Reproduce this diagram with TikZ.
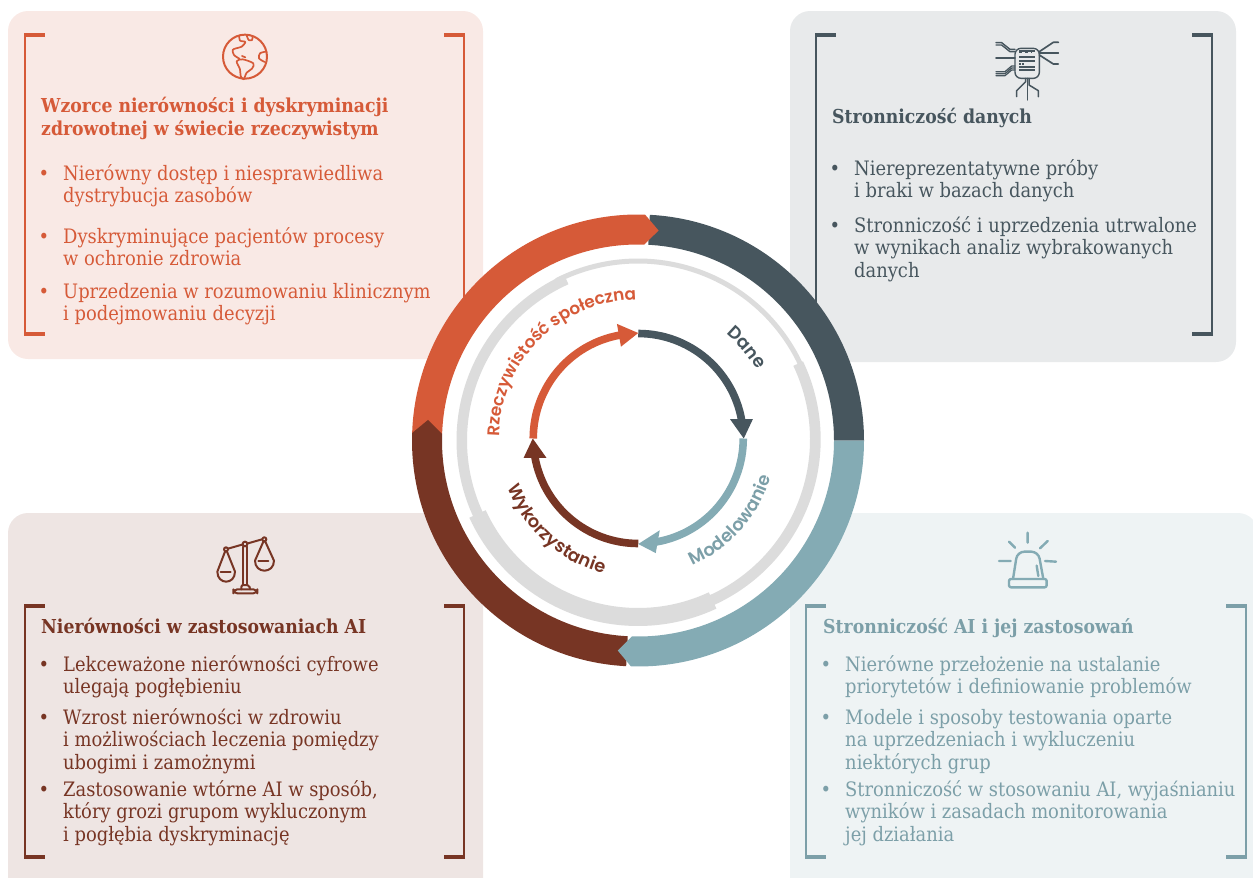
\documentclass[tikz,border=0pt]{standalone}
\usepackage{fontspec}
\usetikzlibrary{decorations.text,calc}
\newfontfamily\bodyf{DejaVu Serif Condensed}
\newfontfamily\lblf{Poppins SemiBold}
\definecolor{cR}{HTML}{D65A38}
\definecolor{cD}{HTML}{47565E}
\definecolor{cT}{HTML}{84ABB4}
\definecolor{cB}{HTML}{773524}
\definecolor{cTt}{HTML}{7C9FA8}
\definecolor{pR}{HTML}{F9E9E5}
\definecolor{pD}{HTML}{E8EAEB}
\definecolor{pB}{HTML}{EEE5E3}
\definecolor{pT}{HTML}{EEF3F4}
\definecolor{cG}{HTML}{DCDCDC}
\newcommand\lines[1]{\begin{tabular}[t]{@{}l@{}}#1\end{tabular}}
\tikzset{
 panel/.style={rounded corners=20pt},
 body/.style={anchor=base west,inner sep=0pt,font=\bodyf\fontsize{19.9}{22.9}\selectfont},
 head/.style={anchor=base west,inner sep=0pt,font=\bodyf\bfseries\fontsize{19.2}{23}\selectfont},
 dot/.style={anchor=base,inner sep=0pt,font=\bodyf\fontsize{19.9}{22.9}\selectfont},
 hbar/.style={line width=3.4pt},
 brk/.style={line width=2pt,line cap=butt},
 ico/.style={line width=2pt,line cap=round,line join=round},
}
% bracket: x-left, x-right, y-top, y-bottom, colour
\newcommand\brackets[5]{%
 \draw[brk,#5] (#1,-#3) -- (#1,-#4);
 \draw[hbar,#5] (#1-1,-#3) -- (#1+20,-#3);
 \draw[hbar,#5] (#1-1,-#4) -- (#1+20,-#4);
 \draw[brk,#5] (#2,-#3) -- (#2,-#4);
 \draw[hbar,#5] (#2+1,-#3) -- (#2-20,-#3);
 \draw[hbar,#5] (#2+1,-#4) -- (#2-20,-#4);
}
\begin{document}
\begin{tikzpicture}[x=1pt,y=1pt]
\useasboundingbox (0,0) rectangle (1253,-878);
\clip (0,0) rectangle (1253,-878);
% panels
\fill[panel,pR] (8,-11) rectangle (483,-359);
\fill[panel,pD] (790,-11) rectangle (1236,-362);
\fill[panel,pB] (8,-513) rectangle (483,-900);
\fill[panel,pT] (790,-513) rectangle (1258,-898);
% brackets
\brackets{25}{464}{35}{334}{cR}
\brackets{816}{1212}{35}{334}{cD}
\brackets{25}{464}{606}{857}{cB}
\brackets{806}{1246}{606}{857}{cTt}
% top-left text
\node[head,cR] (tlh) at (41,-112) {\lines{Wzorce nierówności i dyskryminacji\\zdrowotnej w świecie rzeczywistym}};
\node[dot,cR] (tld1) at (44,-180) {•};
\node[body,cR] (tl1) at (63,-180) {\lines{Nierówny dostęp i niesprawiedliwa\\dystrybucja zasobów}};
\node[dot,cR] (tld2) at (44,-243) {•};
\node[body,cR] (tl2) at (63,-243) {\lines{Dyskryminujące pacjentów procesy\\w ochronie zdrowia}};
\node[dot,cR] (tld3) at (44,-298) {•};
\node[body,cR] (tl3) at (63,-298) {\lines{Uprzedzenia w rozumowaniu klinicznym\\i podejmowaniu decyzji}};
% top-right text
\node[head,cD] (trh) at (832,-123) {Stronniczość danych};
\node[dot,cD] (trd1) at (835,-175) {•};
\node[body,cD] (tr1) at (854,-175) {\lines{Niereprezentatywne próby\\i braki w bazach danych}};
\node[dot,cD] (trd2) at (835,-232) {•};
\node[body,cD] (tr2) at (854,-232) {\lines{Stronniczość i uprzedzenia utrwalone\\w wynikach analiz wybrakowanych\\danych}};
% bottom-left text
\node[head,cB] (blh) at (41,-633) {Nierówności w zastosowaniach AI};
\node[dot,cB] (bld1) at (44,-671) {•};
\node[body,cB] (bl1) at (63,-671) {\lines{Lekceważone nierówności cyfrowe\\ulegają pogłębieniu}};
\node[dot,cB] (bld2) at (44,-724) {•};
\node[body,cB] (bl2) at (63,-724) {\lines{Wzrost nierówności w zdrowiu\\i możliwościach leczenia pomiędzy\\ubogimi i zamożnymi}};
\node[dot,cB] (bld3) at (44,-796) {•};
\node[body,cB] (bl3) at (63,-796) {\lines{Zastosowanie wtórne AI w sposób,\\który grozi grupom wykluczonym\\i pogłębia dyskryminację}};
% bottom-right text
\node[head,cTt] (brh) at (823,-633) {Stronniczość AI i jej zastosowań};
\node[dot,cTt] (brd1) at (826,-671) {•};
\node[body,cTt] (br1) at (845,-671) {\lines{Nierówne przełożenie na ustalanie\\priorytetów i definiowanie problemów}};
\node[dot,cTt] (brd2) at (826,-724) {•};
\node[body,cTt] (br2) at (845,-724) {\lines{Modele i sposoby testowania oparte\\na uprzedzeniach i wykluczeniu\\niektórych grup}};
\node[dot,cTt] (brd3) at (826,-796) {•};
\node[body,cTt] (br3) at (845,-796) {\lines{Stronniczość w stosowaniu AI, wyjaśnianiu\\wyników i zasadach monitorowania\\jej działania}};
% icons (coordinates are zoom-crop pixels)
\begin{scope}[shift={(200,-20)},x=0.3333pt,y=-0.3333pt]
 \draw[ico,cR] (135,110) circle (66);
 \draw[ico,cR,line width=1.7pt] plot[smooth] coordinates {(118,50) (120,62) (136,66) (125,80) (108,85) (98,90) (102,105) (118,116)};
 \draw[ico,cR,line width=1.7pt] plot[smooth cycle] coordinates {(110,124) (128,118) (160,130) (156,146) (140,158) (131,178) (122,168) (120,148)};
 \draw[ico,cR,line width=1.7pt] plot[smooth] coordinates {(140,46) (146,60) (156,60) (158,50)};
 \draw[ico,cR,line width=1.7pt] plot[smooth] coordinates {(197,95) (180,100) (177,115) (194,126)};
 \draw[ico,cR,line width=1.7pt] (126,108) -- (136,112);
\end{scope}
\begin{scope}[shift={(980,-30)},x=0.3333pt,y=-0.3333pt]
 \draw[ico,cD,line width=1.4pt,rounded corners=6pt] (105,55) rectangle (178,145);
 \foreach \y in {62,80,92,112,120} {\draw[cD,line width=1.9pt] (118,\y) -- (165,\y);}
 \draw[cD,line width=1.2pt,dash pattern=on 3pt off 3pt] (118,66) -- (155,66);
 \draw[cD,line width=1.4pt,dash pattern=on 2pt off 1pt] (118,102) -- (135,102);
 \foreach \d in {0,7} {\draw[ico,cD,line width=1.4pt] (48,{38+\d}) -- (65,{38+\d}) -- (90,{58+\d}) -- (105,{58+\d});}
 \draw[ico,cD,line width=1.7pt] (48,85) -- (105,85);
 \foreach \d in {0,6,12} {\draw[ico,cD,line width=1.3pt] (48,{125+\d}) -- (75,{125+\d}) -- (95,{108+\d}) -- (105,{108+\d});}
 \draw[ico,cD,line width=1.7pt] (178,70) -- (235,70);
 \draw[ico,cD,line width=1.7pt] (178,65) -- (220,37) -- (235,37);
 \draw[ico,cD,line width=1.7pt] (178,75) -- (220,102) -- (235,102);
 \draw[ico,cD,line width=1.5pt] (137,145) -- (137,155) -- (110,182) -- (110,200);
 \draw[ico,cD,line width=1.5pt] (147,145) -- (147,165) -- (175,182) -- (175,200);
 \draw[ico,cD,line width=1.5pt] (142,145) -- (142,210);
\end{scope}
\begin{scope}[shift={(200,-530)},x=0.3333pt,y=-0.3333pt]
 \draw[ico,cB] (84,56) -- (126,44) (144,40) -- (186,28);
 \draw[ico,cB] (135,42) circle (7) (78,58) circle (6) (193,28) circle (6);
 \draw[ico,cB] (128,50) -- (128,165) (142,50) -- (142,165);
 \draw[ico,cB,rounded corners=2pt] (124,178) -- (124,165) -- (148,165) -- (150,178);
 \draw[ico,cB,rounded corners=4pt] (100,178) rectangle (172,190);
 \draw[ico,cB] (75,65) -- (52,125) .. controls (52,165) and (105,165) .. (105,125) -- (81,65);
 \draw[ico,cB] (62,127) -- (92,127);
 \draw[ico,cB] (190,35) -- (165,92) .. controls (165,132) and (222,132) .. (222,92) -- (196,35);
 \draw[ico,cB] (175,94) -- (205,94);
\end{scope}
\begin{scope}[shift={(985,-530)},x=0.3333pt,y=-0.3333pt]
 \draw[ico,cT,line width=2.4pt] (128,8) -- (128,38) (72,35) -- (90,53) (188,33) -- (165,55) (42,93) -- (77,93) (180,93) -- (213,95);
 \draw[ico,cT,line width=2.4pt,rounded corners=7pt] (84,147) -- (97,65) -- (160,65) -- (175,147);
 \draw[ico,cT,line width=2.4pt,rounded corners=2pt] (72,147) rectangle (185,172);
 \draw[ico,cT,line width=2.4pt] (155,107) -- (160,138);
\end{scope}
% wheel
\begin{scope}[shift={(638,-440.5)}]
 \fill[white] (0,0) circle (196);
 \fill[cD] (87:226) arc (87:0:226) -- (0:196) arc (0:87:196) -- cycle;
 \fill[cR] (178.1:226) arc (178.1:88.2:226) -- (84.4:211) -- (88.2:196) arc (88.2:178.1:196) -- cycle;
 \fill[cB] (267:226) arc (267:178.1:226) -- (174.4:211) -- (178.1:196) arc (178.1:267:196) -- cycle;
 \fill[cT] (0:226) arc (0:-91.8:226) -- (-95.5:211) -- (-91.8:196) arc (-91.8:0:196) -- cycle;
 % grey ring
 \fill[cG] (117:182) arc (117:23:182) -- (23:177) arc (23:117:177) -- cycle;
 \begin{scope}[shift={(1,1)}]
  \fill[cG] (25.5:181.7) arc (25.5:-68:181.7) -- (-68:171) arc (-68:25.5:171) -- cycle;
 \end{scope}
 \fill[cG] (114:181.5) arc (114:207:181.5) -- (207:171) arc (207:114:171) -- cycle;
 \fill[cG] (204.6:185.5) arc (204.6:295:185.5) -- (295:167.5) arc (295:204.6:167.5) -- cycle;
\end{scope}
% inner cycle
\begin{scope}[shift={(638.25,-438.5)}]
 \draw[cD,line width=7.6pt] (90:105) arc (90:10:105);
 \fill[cD] ($(10.6:105)+(11.4,0)$) -- ($(10.6:105)+(-11.4,0)$) -- (0:105.5) -- cycle;
 \draw[cT,line width=7.6pt] (0:105) arc (0:-80:105);
 \fill[cT] ($(-79.3:105)+(2,11.4)$) -- (-90:105.5) -- ($(-79.3:105)+(-2,-11.4)$) -- cycle;
 \draw[cB,line width=7.6pt] (-90:105) arc (-90:-170:105);
 \fill[cB] ($(190.6:105)+(11.4,0)$) -- ($(190.6:105)+(-11.4,0)$) -- (180:105.5) -- cycle;
 \draw[cR,line width=7.6pt] (180:105) arc (180:100:105);
 \fill[cR] ($(100.6:105)+(-2,11.4)$) -- (90:105.5) -- ($(100.6:105)+(2,-11.4)$) -- cycle;
 % labels along arcs
 \path[postaction={decorate,decoration={text along path,text align={center},
   text={|\lblf\fontsize{16.9}{20}\selectfont\color{cR}|Rzeczywistość społeczna}}}]
   (209.5:139) arc (209.5:60.5:139);
 \path[postaction={decorate,decoration={text along path,text align={center},
   text={|\lblf\fontsize{17.8}{20}\selectfont\color{cD}|Dane}}}]
   (89:137) arc (89:-9:137);
 \path[postaction={decorate,decoration={text along path,text align={center},
   text={|\lblf\fontsize{17.8}{20}\selectfont\color{cTt}|Modelowanie}}}]
   (-100:138) arc (-100:17:138);
 \path[postaction={decorate,decoration={text along path,text align={center},
   text={|\lblf\fontsize{17.8}{20}\selectfont\color{cB}|Wykorzystanie}}}]
   (170:139) arc (170:286:139);
\end{scope}
\end{tikzpicture}
\end{document}
